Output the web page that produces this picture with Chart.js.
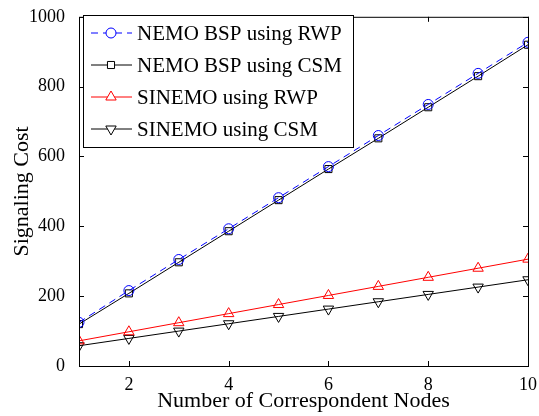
<!DOCTYPE html>
<html>
<head>
<meta charset="utf-8">
<script src="https://cdn.jsdelivr.net/npm/chart.js@4.4.0/dist/chart.umd.min.js"></script>
<style>
  html, body { margin: 0; padding: 0; background: #fff; }
  #wrap { width: 539px; height: 416px; }
</style>
</head>
<body>
<div id="wrap"><canvas id="cost"></canvas></div>
<script>
const nodes = [1, 2, 3, 4, 5, 6, 7, 8, 9, 10];
const nemoRwp = [125, 216, 305, 393, 482, 571, 660, 749, 838, 927];
const nemoCsm = [120, 208, 297, 386, 475, 564, 652, 741, 830, 920];
const sinemoRwp = [72, 98, 124, 150, 176, 202, 228, 254, 280, 306];
const sinemoCsm = [58, 79, 100, 121, 142, 163, 184, 205, 226, 247];
const xTicks = [2, 4, 6, 8, 10];
const yTicks = [0, 200, 400, 600, 800, 1000];

const serif = '"Liberation Serif", "Times New Roman", serif';

function series(label, values, color, style, rotation, radius, dash) {
  return {
    label: label,
    data: values.map((v, i) => ({ x: nodes[i], y: v })),
    borderColor: color,
    backgroundColor: 'transparent',
    borderWidth: 1,
    borderDash: dash || [],
    pointStyle: style,
    rotation: rotation,
    pointRadius: radius,
    pointBorderColor: color,
    pointBackgroundColor: 'transparent',
    pointBorderWidth: 1,
    tension: 0,
  };
}

const datasets = [
  series('NEMO BSP using RWP', nemoRwp, '#0000ff', 'circle', 0, 5, [7, 5]),
  series('NEMO BSP using CSM', nemoCsm, '#000000', 'rect', 0, 5),
  series('SINEMO using RWP', sinemoRwp, '#ff0000', 'triangle', 0, 6),
  series('SINEMO using CSM', sinemoCsm, '#000000', 'triangle', 180, 6),
];

const frame = {
  id: 'frame',
  afterDraw(chart) {
    const { ctx, chartArea: area, scales } = chart;
    ctx.save();
    ctx.strokeStyle = '#000';
    ctx.lineWidth = 1;
    ctx.strokeRect(area.left + 0.5, area.top + 0.5, area.right - area.left, area.bottom - area.top);
    ctx.beginPath();
    xTicks.forEach((t) => {
      const px = Math.round(scales.x.getPixelForValue(t)) + 0.5;
      ctx.moveTo(px, area.bottom); ctx.lineTo(px, area.bottom - 5);
      ctx.moveTo(px, area.top); ctx.lineTo(px, area.top + 5);
    });
    yTicks.forEach((t) => {
      const py = Math.round(scales.y.getPixelForValue(t)) + 0.5;
      ctx.moveTo(area.left, py); ctx.lineTo(area.left + 5, py);
      ctx.moveTo(area.right, py); ctx.lineTo(area.right - 5, py);
    });
    ctx.stroke();

    // legend
    const bx = 83, by = 15, bw = 270, bh = 132;
    ctx.fillStyle = '#fff';
    ctx.fillRect(bx, by, bw, bh);
    ctx.strokeRect(bx + 0.5, by + 0.5, bw, bh);
    ctx.font = '21px ' + serif;
    ctx.textBaseline = 'middle';
    chart.data.datasets.forEach((ds, i) => {
      const y = by + 18 + i * 32;
      ctx.strokeStyle = ds.borderColor;
      ctx.setLineDash(ds.borderDash);
      ctx.beginPath();
      ctx.moveTo(91, y); ctx.lineTo(132, y);
      ctx.stroke();
      ctx.setLineDash([]);
      Chart.helpers.drawPoint(ctx, {
        pointStyle: ds.pointStyle, rotation: ds.rotation, radius: ds.pointRadius, borderWidth: 1,
      }, 111, y);
      ctx.fillStyle = '#000';
      ctx.fillText(ds.label, 137, y + 1);
      ctx.fillStyle = '#fff';
    });
    ctx.restore();
  },
};

new Chart(document.getElementById('cost'), {
  type: 'line',
  data: { datasets: datasets },
  plugins: [frame],
  options: {
    responsive: true,
    maintainAspectRatio: false,
    animation: false,
    layout: { padding: { top: 14, right: 11, left: 0, bottom: 0 } },
    plugins: { legend: { display: false }, tooltip: { enabled: false } },
    scales: {
      x: {
        type: 'linear',
        min: 1,
        max: 10,
        afterBuildTicks: (axis) => { axis.ticks = xTicks.map((v) => ({ value: v })); },
        afterFit: (axis) => { axis.height = 50; },
        grid: { display: false },
        border: { display: false },
        ticks: { color: '#000', font: { family: serif, size: 18 }, padding: 0, maxRotation: 0, callback: (v) => String(v) },
        title: { display: true, text: 'Number of Correspondent Nodes', color: '#000', font: { family: serif, size: 22, lineHeight: 1 }, padding: { top: 0, bottom: 4 } },
      },
      y: {
        min: 0,
        max: 1000,
        afterBuildTicks: (axis) => { axis.ticks = yTicks.map((v) => ({ value: v })); },
        afterFit: (axis) => { axis.width = 79; },
        grid: { display: false },
        border: { display: false },
        ticks: { color: '#000', font: { family: serif, size: 18 }, padding: 6, callback: (v) => String(v) },
        title: { display: true, text: 'Signaling Cost', color: '#000', font: { family: serif, size: 22, lineHeight: 1 }, padding: { top: 11, bottom: 0 } },
      },
    },
  },
});
</script>
</body>
</html>
